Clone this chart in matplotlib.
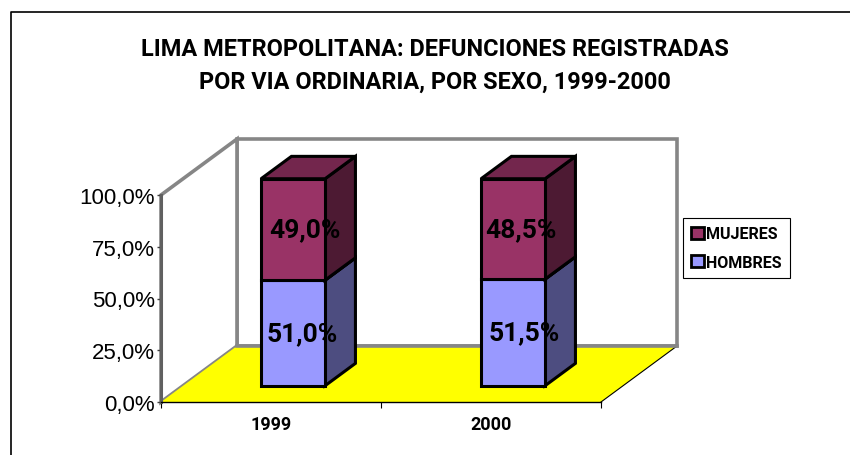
import matplotlib
matplotlib.use('Agg')
import matplotlib.pyplot as plt
from matplotlib.patches import Patch, Polygon

years = ['1999', '2000']
hombres = [51.0, 51.5]
mujeres = [49.0, 48.5]
yticks = [0, 25, 50, 75, 100]
title = 'LIMA METROPOLITANA: DEFUNCIONES REGISTRADAS\nPOR VIA ORDINARIA, POR SEXO, 1999-2000'

W, H = 850, 456
narrow = ['Roboto', 'Liberation Sans']
plt.rcParams['font.family'] = ['Liberation Sans', 'DejaVu Sans']

# front plane of the box in pixels
x0, x1, y0, y1 = 161, 601, 403, 196
# how far the depth axis shifts things, in data units
DX = 76 / 220
DY = 56 / 207 * 100
d_front, d_back = 0.29, 0.69
bar_w = 64 / 220
# labels are not centred on the bars in the original, shift in px (hombres, mujeres)
label_shift = [[9.3, 11.8], [11.5, 7.5]]

fig = plt.figure(figsize=(8.5, 4.56), dpi=100, facecolor='white')
ax = fig.add_axes([x0 / W, 1 - y0 / H, (x1 - x0) / W, (y0 - y1) / H])
ax.set_xlim(0, 2)
ax.set_ylim(0, 100)
ax.patch.set_visible(False)


def pt(x, y, d):
    return (x + d * DX, y + d * DY)


def poly(points, fc, ec='black', lw=2.2, z=3):
    ax.add_patch(Polygon(points, closed=True, fc=fc, ec=ec, lw=lw, zorder=z,
                         clip_on=False, joinstyle='miter'))


def pct(v):
    return ('%.1f' % v).replace('.', ',') + '%'


# floor and walls
poly([pt(0, 0, 1), pt(2, 0, 1), pt(2, 100, 1), pt(0, 100, 1)], 'white', '#868686', 2.6, 1)
poly([pt(0, 0, 0), pt(0, 0, 1), pt(0, 100, 1), pt(0, 100, 0)], 'white', '#868686', 2.6, 1)
poly([pt(0, 0, 0), pt(2, 0, 0), pt(2, 0, 1), pt(0, 0, 1)], '#ffff00', 'none', 0, 1.5)
ax.plot(*zip(pt(2, 0, 0), pt(2, 0, 1)), color='black', lw=0.8, zorder=2, clip_on=False)
ax.plot(*zip(pt(0, 0, 1), pt(2, 0, 1)), color='#868686', lw=2.6, zorder=2, clip_on=False)

# stacked bars
series = [(hombres, '#9999ff', '#4d4d80', '#4d4d80'),
          (mujeres, '#993366', '#4d1a33', '#73264d')]
for i in range(len(years)):
    left = i + 0.5 - bar_w / 2
    right = left + bar_w
    base = 0
    for k, (vals, front, side, top) in enumerate(series):
        v = vals[i]
        poly([pt(right, base, d_front), pt(right, base, d_back),
              pt(right, base + v, d_back), pt(right, base + v, d_front)], side)
        poly([pt(left, base + v, d_front), pt(right, base + v, d_front),
              pt(right, base + v, d_back), pt(left, base + v, d_back)], top)
        poly([pt(left, base, d_front), pt(right, base, d_front),
              pt(right, base + v, d_front), pt(left, base + v, d_front)], front)
        ax.annotate(pct(v), pt(i + 0.5, base + v / 2, d_front),
                    xytext=(label_shift[i][k] * 0.72, 0), textcoords='offset points',
                    ha='center', va='center', fontsize=19, fontweight='bold',
                    family=narrow, zorder=5, color='black', annotation_clip=False)
        base += v

# axes
for s in ['top', 'right']:
    ax.spines[s].set_visible(False)
ax.spines['left'].set_color('#606060')
ax.spines['left'].set_linewidth(2.2)
ax.spines['left'].set_zorder(4)
ax.spines['bottom'].set_color('black')
ax.spines['bottom'].set_linewidth(1)
ax.spines['bottom'].set_zorder(4)

ax.set_yticks(yticks)
ax.set_yticklabels([pct(t) for t in yticks], fontsize=16)
ax.tick_params(axis='y', length=3, width=1, color='#404040', pad=1.5, labelcolor='black')
ax.set_xticks([0, 1, 2])
ax.set_xticklabels(['', '', ''])
ax.tick_params(axis='x', length=4, width=0.8, color='black')
for i, y in enumerate(years):
    ax.annotate(y, (i + 0.5, 0), xytext=(0, -16), textcoords='offset points', ha='center',
                va='center', fontsize=13, fontweight='bold', family=narrow, annotation_clip=False)

fig.text(435 / W, 1 - 66 / H, title, ha='center', va='center', fontsize=16.9,
         fontweight='bold', family=narrow, linespacing=1.5)

# legend
handles = [Patch(fc=series[1][1], ec='black', lw=2), Patch(fc=series[0][1], ec='black', lw=2)]
leg = fig.legend(handles, ['MUJERES', 'HOMBRES'], loc='center left',
                 bbox_to_anchor=(683 / W, 1 - 249 / H), frameon=True, fancybox=False,
                 edgecolor='black', framealpha=1, borderpad=0.5, handlelength=0.8,
                 handleheight=0.8, handletextpad=0.15, labelspacing=0.85, borderaxespad=0,
                 prop={'family': narrow, 'weight': 'bold', 'size': 11.5})
leg.get_frame().set_linewidth(0.8)

# outer chart border, only top and left edges fall inside the picture
fig.add_artist(plt.Line2D([10.5 / W, 10.5 / W, 1], [0, 1 - 12.5 / H, 1 - 12.5 / H],
                          color='black', lw=1.2, transform=fig.transFigure))

fig.savefig('out.png', dpi=100)
